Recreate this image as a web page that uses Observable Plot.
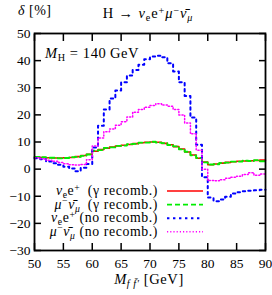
<!DOCTYPE html>
<html><head><meta charset="utf-8">
<script src="https://cdn.jsdelivr.net/npm/d3@7"></script>
<script src="https://cdn.jsdelivr.net/npm/@observablehq/plot@0.6"></script>
<style>body{margin:0;background:#fff}</style>
</head><body><div id="chart"></div>
<script>
const binEdges = [50,51,52,53,54,55,56,57,58,59,60,61,62,63,64,65,66,67,68,69,70,71,72,73,74,75,76,77,78,79,80,81,82,83,84,85,86,87,88,89,90];
const nueGamma = [4.4,4.3,4.2,4.1,4.1,4.2,4.3,4.6,5.0,5.5,6.6,7.2,7.7,8.1,8.5,8.8,9.1,9.4,9.7,9.9,10.0,9.9,9.5,9.0,8.3,7.4,6.3,5.2,4.0,2.6,1.6,1.9,2.2,2.5,2.7,2.9,3.0,3.1,3.2,3.3,3.3];
const munuGamma = [4.5,4.4,4.2,4.2,4.0,4.1,4.4,4.5,4.9,5.4,6.8,7.0,7.8,8.0,8.6,8.7,9.2,9.3,9.8,9.8,10.1,9.8,9.6,8.9,8.4,7.3,6.4,5.1,4.1,2.5,1.7,1.8,2.3,2.4,2.8,2.8,3.1,3.0,3.3,2.9,2.9];
const nueNoRec = [4.0,3.6,2.8,2.2,1.6,0.9,0.2,-0.8,0.5,1.9,8,16,22,26,29,32,34.5,36.5,38.5,40.5,41.5,41.8,41.2,39,36,32,27,19,9,-3,-10.5,-11.8,-11.2,-10.2,-9,-8.5,-8.2,-8,-7.8,-7.6,-7.6];
const munuNoRec = [4.2,3.8,3.3,2.9,2.4,2.0,1.6,1.5,1.7,3.5,8.5,11.5,13.8,14.8,16.2,17.5,19.2,21,22,22.8,23.5,24.1,23.6,23.2,22,20,17,13,7,0,-4.2,-4.3,-3.9,-3.4,-3.0,-2.6,-2.0,-1.3,-2.3,-1.8,-1.8];
const xTicks = [50,55,60,65,70,75,80,85,90];
const yTicks = [-30,-20,-10,0,10,20,30,40,50];

const seriesNames = ["nueGamma","munuGamma","nueNoRec","munuNoRec"];
const seriesValues = [nueGamma, munuGamma, nueNoRec, munuNoRec];
const seriesColors = ["#ff0000","#00ee00","#0000ff","#ff00ff"];
const seriesDash = [null,"5,3","2.4,3.6","1.2,2"];
const seriesWidth = [1.6,1.8,2,1.5];

const FONT = "Liberation Serif";
const rows = [];
seriesNames.forEach((s,i)=>binEdges.forEach((x,j)=>rows.push({s, x, y: seriesValues[i][j]})));

const lineMarks = seriesNames.map((s,i)=>Plot.line(rows.filter(d=>d.s===s),{x:"x",y:"y",curve:"step-after",stroke:seriesColors[i],strokeWidth:seriesWidth[i],strokeDasharray:seriesDash[i]}));

const plot = Plot.plot({
  width:272, height:295,
  marginLeft:34, marginRight:7, marginTop:33, marginBottom:45,
  style:{fontFamily:FONT, fontSize:"13.5px", color:"#000", background:"#fff"},
  x:{domain:[50,90]},
  y:{domain:[-30,50]},
  marks:[
    ...lineMarks,
    Plot.axisX(xTicks,{anchor:"bottom",tickSize:0,tickPadding:8,label:null,fontSize:13.5}),
    Plot.axisX(xTicks,{anchor:"bottom",tickSize:-7,tickFormat:()=>"",label:null,strokeWidth:1.5}),
    Plot.axisX(xTicks,{anchor:"top",tickSize:-7,tickFormat:()=>"",label:null,strokeWidth:1.5}),
    Plot.axisY(yTicks,{anchor:"left",tickSize:0,tickPadding:4,label:null,fontSize:13.5,tickFormat:d=>d<0?"\u2212"+Math.abs(d):String(d)}),
    Plot.axisY(yTicks,{anchor:"left",tickSize:-7,tickFormat:()=>"",label:null,strokeWidth:1.5}),
    Plot.axisY(yTicks,{anchor:"right",tickSize:-7,tickFormat:()=>"",label:null,strokeWidth:1.5}),
    Plot.frame({stroke:"#000",strokeWidth:1.8})
  ]
});
document.getElementById("chart").appendChild(plot);

const svg = d3.select(plot);
function rich(x,y,parts,anchor,size,ls){
  size = size||14;
  const t = svg.append("text").attr("x",x).attr("y",y).attr("text-anchor",anchor||"start")
    .attr("font-family",FONT).attr("font-size",size).attr("fill","#000")
    .attr("letter-spacing",ls==null?0.5:ls).style("white-space","pre");
  let shift=0;
  parts.forEach(p=>{
    const sp = t.append("tspan").text(p.t);
    const target = p.sub?3:(p.sup?-4.5:0);
    if(target!==shift){sp.attr("dy",target-shift); shift=target;}
    if(p.i) sp.attr("font-style","italic");
    if(p.sub||p.sup) sp.attr("font-size",size*0.7);
  });
  return t;
}
const SP = "\u2002";
// title and labels
rich(18,15,[{t:"δ",i:true},{t:" [%]"}],"start",14);
rich(148,18,[{t:"H → "},{t:"ν",i:true},{t:"e",sub:true},{t:"e"},{t:"+",sup:true},{t:"μ",i:true},{t:"−",sup:true},{t:"ν̄",i:true},{t:"μ",sub:true,i:true}],"middle",14.5,0.9);
rich(45,58,[{t:"M",i:true},{t:"H",sub:true},{t:" = 140"+"\u2009"+"GeV"}],"start",14.5,0.6);
rich(149,284,[{t:"M",i:true},{t:"f f̄′",sub:true,i:true},{t:" [GeV]"}],"middle",14.5,0.6);

// legend
const legendLabels = [
  [{t:"ν",i:true},{t:"e",sub:true},{t:"e"},{t:"+",sup:true},{t:SP+"(γ recomb.)"}],
  [{t:"μ",i:true},{t:"−",sup:true},{t:"ν̄",i:true},{t:"μ",sub:true,i:true},{t:SP+"(γ recomb.)"}],
  [{t:"ν",i:true},{t:"e",sub:true},{t:"e"},{t:"+",sup:true},{t:" (no recomb.)"}],
  [{t:"μ",i:true},{t:"−",sup:true},{t:"ν̄",i:true},{t:"μ",sub:true,i:true},{t:" (no recomb.)"}]
];
legendLabels.forEach((parts,i)=>{
  const yy = 191 + i*13.6;
  rich(158, yy+4, parts, "end", 13.8, 0.6);
  svg.append("line").attr("x1",167).attr("x2",203).attr("y1",yy).attr("y2",yy)
    .attr("stroke",seriesColors[i]).attr("stroke-width",seriesWidth[i])
    .attr("stroke-dasharray",seriesDash[i]);
});
</script></body></html>
